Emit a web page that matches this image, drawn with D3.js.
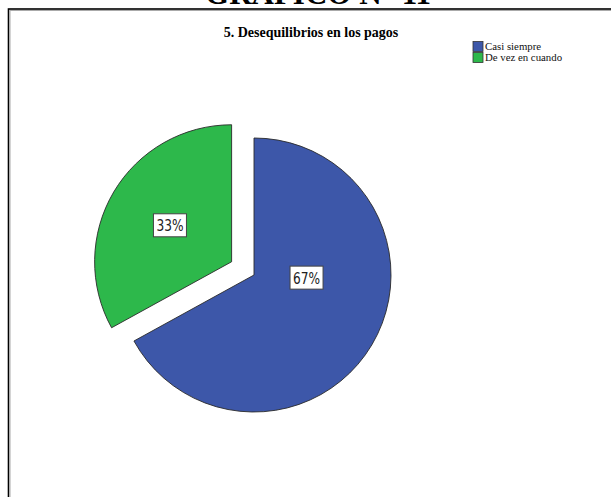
<!DOCTYPE html>
<html>
<head>
<meta charset="utf-8">
<script src="https://cdn.jsdelivr.net/npm/d3@7"></script>
<style>
  html, body { margin: 0; padding: 0; background: #fff; }
  svg { display: block; }
</style>
</head>
<body>
<svg id="chart" width="611" height="497"></svg>
<script>
const categories = ["Casi siempre", "De vez en cuando"];
const values = [67, 33];
const labels = ["67%", "33%"];
const colors = ["#3d57a9", "#2db84b"];
const exploded = [false, true];
const heading = "GRÁFICO N° 11";
const title = "5. Desequilibrios en los pagos";

const svg = d3.select("#chart");

// page heading (cropped at top, as in the source page)
svg.append("text")
  .attr("x", 318).attr("y", 4)
  .attr("text-anchor", "middle")
  .attr("font-family", "Liberation Serif, serif")
  .attr("font-weight", "bold")
  .attr("font-size", 31)
  .text(heading);

// frame
svg.append("rect")
  .attr("x", 8.5).attr("y", 9).attr("width", 700).attr("height", 600)
  .attr("fill", "#fff").attr("stroke", "#000").attr("stroke-width", 1.6);
svg.append("rect")
  .attr("x", 10).attr("y", 10.5).attr("width", 700).attr("height", 600)
  .attr("fill", "none").attr("stroke", "#aaa").attr("stroke-width", 1);

// title
svg.append("text")
  .attr("x", 311).attr("y", 37)
  .attr("text-anchor", "middle")
  .attr("font-family", "Liberation Serif, serif")
  .attr("font-weight", "bold")
  .attr("font-size", 14)
  .text(title);

// legend
const leg = svg.append("g").attr("transform", "translate(473,41.5)");
categories.forEach((c, i) => {
  const g = leg.append("g").attr("transform", `translate(0,${i * 11})`);
  g.append("rect").attr("x", 0).attr("y", 0).attr("width", 10).attr("height", 10)
    .attr("fill", colors[i]).attr("stroke", "#333").attr("stroke-width", 0.8);
  g.append("text").attr("x", 12).attr("y", 8.2)
    .attr("font-family", "Liberation Serif, serif")
    .attr("font-size", 10.8)
    .attr("fill", "#111")
    .text(c);
});

// pie
const cx = 254, cy = 275, R = 137, explode = 26;
const pie = d3.pie().sort(null).value(d => d)(values);
const arc = d3.arc().innerRadius(0).outerRadius(R);

const g = svg.append("g").attr("transform", `translate(${cx},${cy})`);

pie.forEach((p, i) => {
  const mid = (p.startAngle + p.endAngle) / 2;
  const off = exploded[i] ? explode : 0;
  const dx = Math.sin(mid) * off, dy = -Math.cos(mid) * off;
  const sg = g.append("g").attr("transform", `translate(${dx},${dy})`);
  sg.append("path").attr("d", arc(p))
    .attr("fill", colors[i]).attr("stroke", "#2a2a2a").attr("stroke-width", 0.9);

  // label placement
  const span = p.endAngle - p.startAngle;
  let la, lr;
  if (span > Math.PI) { la = p.startAngle + span * 0.385; lr = R * 0.384; }
  else { la = mid; lr = R * 0.523; }
  const lx = Math.sin(la) * lr, ly = -Math.cos(la) * lr;
  const lg = sg.append("g").attr("transform", `translate(${lx},${ly})`);
  lg.append("rect").attr("x", -16.5).attr("y", -11.5).attr("width", 33).attr("height", 23)
    .attr("fill", "#fff").attr("stroke", "#444").attr("stroke-width", 1);
  lg.append("text").attr("x", 0).attr("y", 6)
    .attr("text-anchor", "middle")
    .attr("font-family", "DejaVu Sans Condensed, DejaVu Sans, sans-serif")
    .attr("font-size", 16)
    .attr("font-weight", 300)
    .attr("textLength", 27).attr("lengthAdjust", "spacingAndGlyphs")
    .attr("fill", "#222")
    .text(labels[i]);
});
</script>
</body>
</html>
